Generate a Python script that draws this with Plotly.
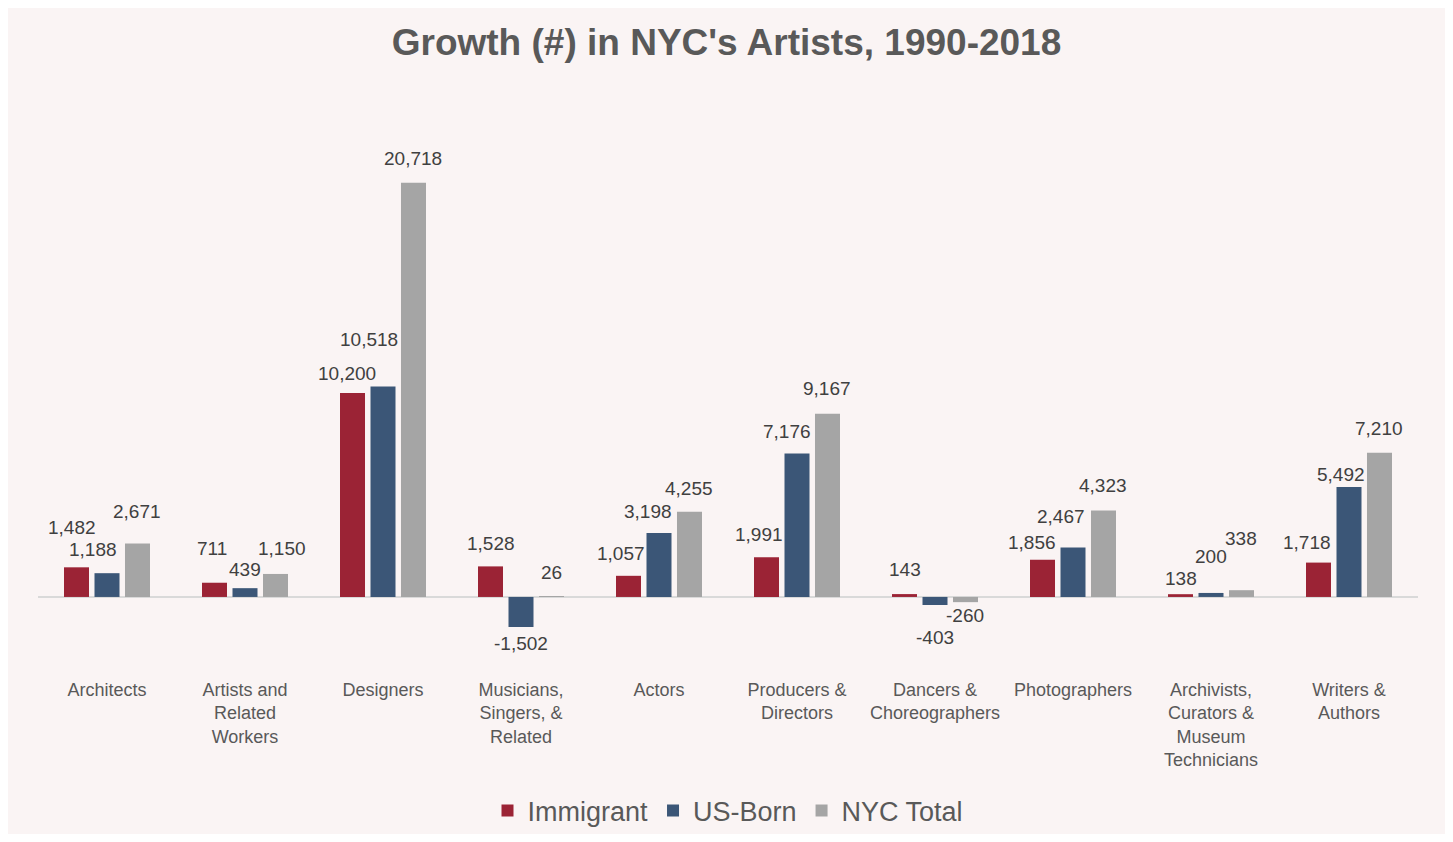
import plotly.graph_objects as go

categories = ["Architects", "Artists and<br>Related<br>Workers", "Designers",
              "Musicians,<br>Singers, &<br>Related", "Actors",
              "Producers &<br>Directors", "Dancers &<br>Choreographers",
              "Photographers", "Archivists,<br>Curators &<br>Museum<br>Technicians",
              "Writers &<br>Authors"]
immigrant = [1482, 711, 10200, 1528, 1057, 1991, 143, 1856, 138, 1718]
us_born = [1188, 439, 10518, -1502, 3198, 7176, -403, 2467, 200, 5492]
nyc_total = [2671, 1150, 20718, 26, 4255, 9167, -260, 4323, 338, 7210]

series_names = ["Immigrant", "US-Born", "NYC Total"]
series_values = [immigrant, us_born, nyc_total]
colors = ["#9B2335", "#3B5677", "#A5A5A5"]

# label nudges (style): (dx px, dy px away from bar end)
label_nudge = [
    [(-5, 40), (-3, 34), (-6, 19), (0, 23), (-8, 22), (-8, 23), (0, 25), (-11, 17), (0, 16), (-12, 20)],
    [(-14, 24), (0, 19), (-14, 47), (0, 17), (-11, 22), (-10, 22), (0, 32), (-12, 31), (0, 36), (-8, 13)],
    [(0, 32), (7, 25), (0, 24), (0, 24), (0, 23), (0, 25), (0, 13), (0, 25), (0, 52), (0, 24)],
]

W, H = 1437, 826
ml, mr, mt, mb = 30, 27, 149, 160
bargap, bargroupgap = 0.337, 0.18
plot_w = W - ml - mr
slot = plot_w / len(categories) * (1 - bargap) / 3
FONT = "Liberation Sans, Arial, sans-serif"

fig = go.Figure()
for name, vals, col in zip(series_names, series_values, colors):
    fig.add_trace(go.Bar(x=categories, y=vals, name=name, marker_color=col,
                         marker_line_width=0))

annotations = []
for i, vals in enumerate(series_values):
    for j, v in enumerate(vals):
        dx, dy = label_nudge[i][j]
        annotations.append(dict(
            x=categories[j], y=v, xref="x", yref="y",
            text=f"{v:,}", showarrow=False,
            xshift=(i - 1) * slot + dx,
            yshift=dy if v >= 0 else -dy,
            font=dict(size=19, color="#404040", family=FONT),
        ))

fig.update_layout(
    width=W, height=H,
    margin=dict(l=ml, r=mr, t=mt, b=mb, autoexpand=False),
    paper_bgcolor="#FAF4F4", plot_bgcolor="#FAF4F4",
    barmode="group", bargap=bargap, bargroupgap=bargroupgap,
    title=dict(text="<b>Growth (#) in NYC's Artists, 1990-2018</b>",
               x=0.5, xanchor="center", y=1 - 34 / H, yanchor="middle",
               font=dict(size=37, color="#595959",
                         family="Liberation Sans Narrow, Arial Narrow, sans-serif")),
    showlegend=True,
    legend=dict(orientation="h", x=0.5, xanchor="center", y=-0.265, yanchor="middle",
                font=dict(size=27, color="#595959", family=FONT),
                bgcolor="rgba(0,0,0,0)", itemwidth=30, tracegroupgap=0),
    annotations=annotations,
    font=dict(family=FONT, color="#595959"),
)
fig.update_xaxes(showline=False, showgrid=False, ticks="", ticklabelstandoff=3,
                 automargin=False,
                 tickfont=dict(size=18, color="#595959"), fixedrange=True)
fig.update_yaxes(range=[-3853, 22000], showgrid=False, showticklabels=False,
                 automargin=False,
                 zeroline=True, zerolinecolor="#D9D9D9", zerolinewidth=2, showline=False)

fig.write_html("out.html")
